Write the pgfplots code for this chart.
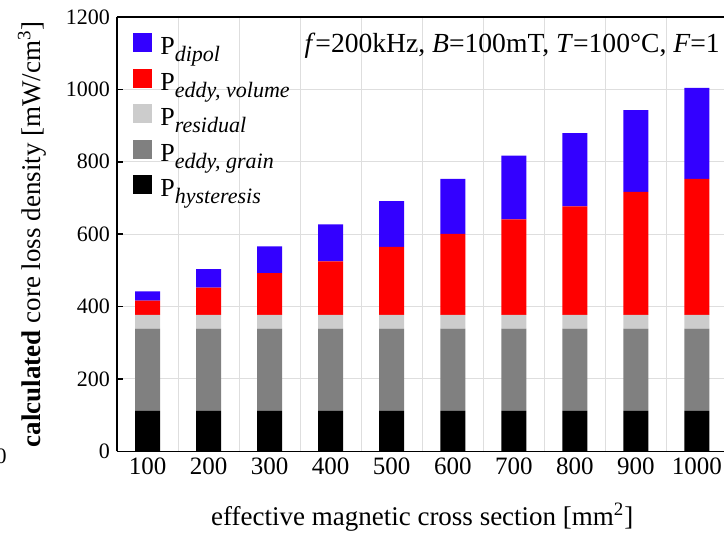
\documentclass[border=0pt]{standalone}
\usepackage{fontspec}
\setmainfont{Liberation Serif}
\usepackage{pgfplots}
\pgfplotsset{compat=1.18}
\definecolor{cdip}{RGB}{51,0,255}
\definecolor{cvol}{RGB}{255,0,0}
\definecolor{cres}{RGB}{204,204,204}
\definecolor{cgra}{RGB}{128,128,128}
\definecolor{chys}{RGB}{0,0,0}
\newcommand{\sub}[1]{\raisebox{-3.5pt}{\fontsize{11}{13}\selectfont\itshape #1}}
\begin{document}
\begin{tikzpicture}
\useasboundingbox (0,0) rectangle (362pt,266.5pt);
\clip (0,0) rectangle (362pt,266.5pt);
\node[font=\fontsize{11}{13}\selectfont, anchor=east, inner sep=0pt] at (3.5pt,38.5pt) {0};
\begin{axis}[
  at={(58.5pt,40.85pt)}, anchor=south west,
  scale only axis, width=305.25pt, height=217.15pt,
  xmin=50, xmax=1050, ymin=0, ymax=1200,
  ybar stacked, bar width=41,
  xtick={100,200,...,1000},
  minor xtick={150,250,...,950},
  xminorgrids=true, ymajorgrids=true,
  ytick={0,200,...,1200},
  axis x line*=box, axis y line*=left,
  axis line style={line width=0.75pt, black},
  tick align=inside,
  xtick style={draw=none},
  ytick style={line width=0.75pt, black},
  major tick length=3pt,
  minor tick length=0pt,
  grid style={line width=0.5pt, color=black!13},
  yticklabel style={font=\fontsize{11}{13}\selectfont},
  xticklabel style={font=\fontsize{12.5}{14}\selectfont},
  /pgf/number format/assume math mode=true,
  /pgf/number format/set thousands separator={},
  xlabel={effective magnetic cross section [mm\textsuperscript{2}]},
  ylabel={\textbf{calculated} core loss density [mW/cm\textsuperscript{3}]},
  every axis x label/.style={at={(axis description cs:0.5,-0.152)}, anchor=center, font=\fontsize{13.5}{16}\selectfont},
  every axis y label/.style={at={(axis description cs:-0.139,0.5)}, rotate=90, anchor=center, font=\fontsize{13.5}{16}\selectfont},
  reverse legend,
  legend style={at={(axis description cs:0,1)}, anchor=north west, xshift=8pt, yshift=-8pt,
    draw=none, fill=none, inner sep=0pt, font=\fontsize{13}{15}\selectfont,
    row sep=1pt, nodes={text height=9.5pt, text depth=6pt, inner xsep=4pt, inner ysep=0pt}},
  legend cell align=left,
  legend image code/.code={\fill[#1] (0pt,-0.5pt) rectangle (9.5pt,9pt);},
]
\addplot[fill=chys, draw=none] coordinates {(100,112) (200,112) (300,112) (400,112) (500,112) (600,112) (700,112) (800,112) (900,112) (1000,112)};
\addplot[fill=cgra, draw=none] coordinates {(100,227) (200,227) (300,227) (400,227) (500,227) (600,227) (700,227) (800,227) (900,227) (1000,227)};
\addplot[fill=cres, draw=none] coordinates {(100,38) (200,38) (300,38) (400,38) (500,38) (600,38) (700,38) (800,38) (900,38) (1000,38)};
\addplot[fill=cvol, draw=none] coordinates {(100,39) (200,75) (300,115) (400,148) (500,188) (600,224) (700,264) (800,300) (900,340) (1000,376)};
\addplot[fill=cdip, draw=none] coordinates {(100,26) (200,51) (300,74) (400,102) (500,126) (600,152) (700,176) (800,202) (900,226) (1000,251)};
\legend{P\sub{hysteresis}, P\sub{eddy, grain}, P\sub{residual}, P\sub{eddy, volume}, P\sub{dipol}}
\node[anchor=base east, inner sep=0pt, font=\fontsize{13.8}{16}\selectfont] at (axis cs:1038,1101) {\textit{f}=200kHz, \textit{B}=100mT, \textit{T}=100°C, \textit{F}=1};
\end{axis}
\end{tikzpicture}
\end{document}
